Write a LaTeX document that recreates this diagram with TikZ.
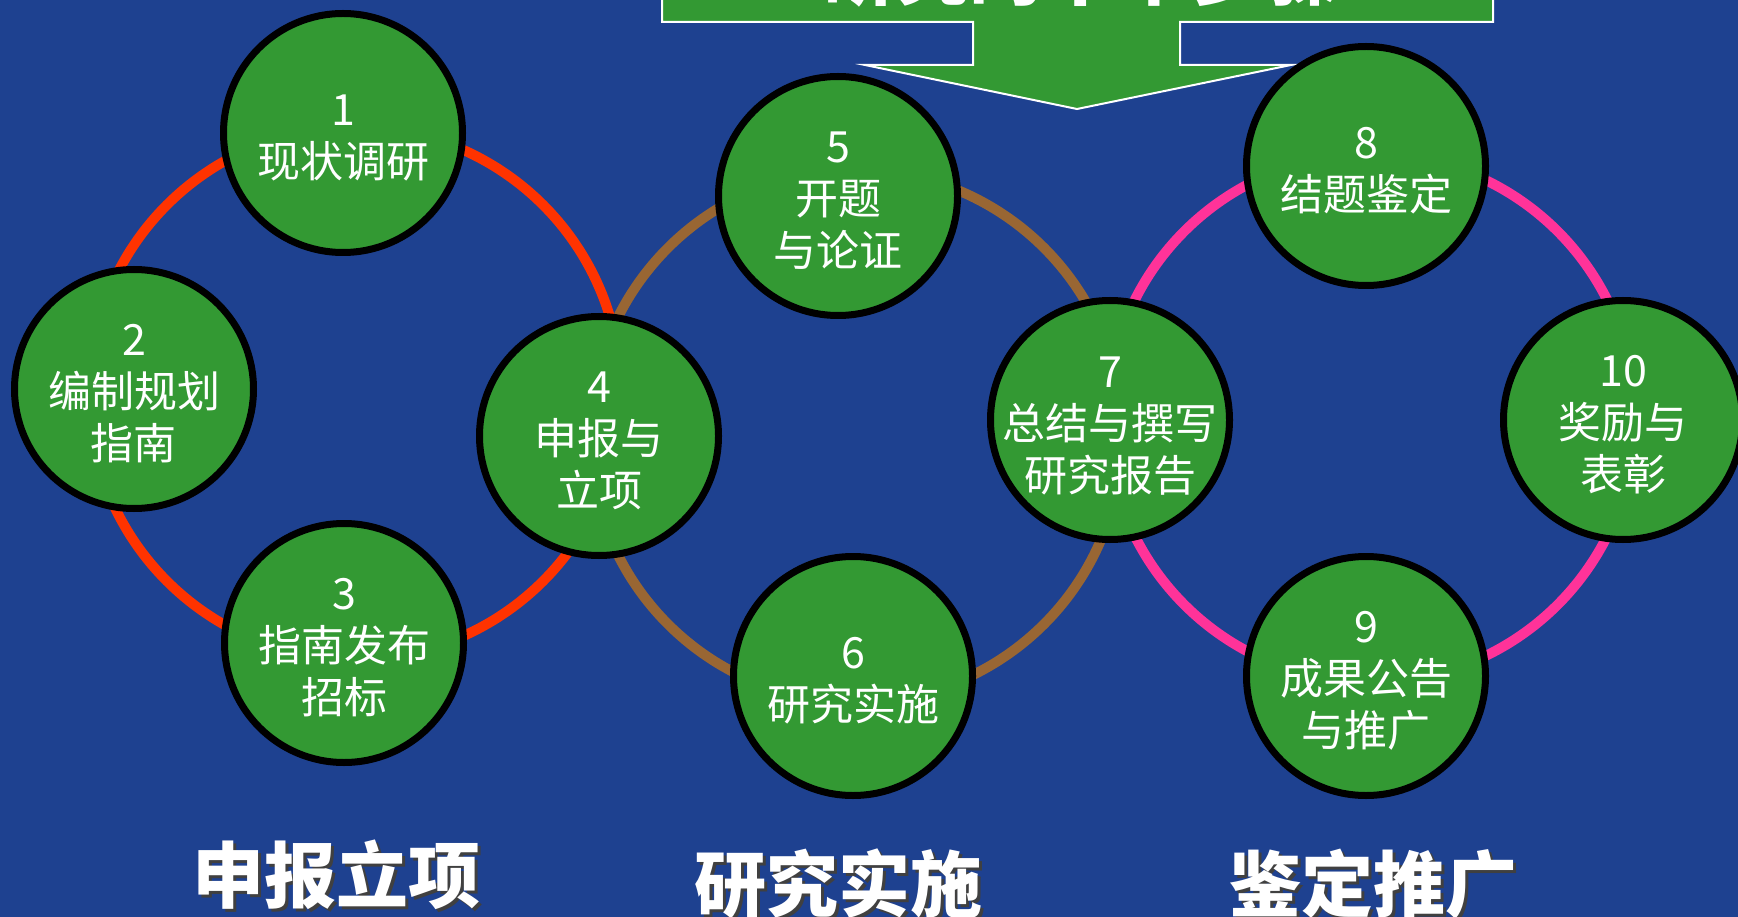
\documentclass[tikz,border=0pt]{standalone}
\usepackage{fontspec}
\setmainfont{Noto Sans CJK SC}
\definecolor{bgblue}{HTML}{1E4190}
\definecolor{stepgreen}{HTML}{339933}
\definecolor{ringred}{HTML}{FF3300}
\definecolor{ringbrown}{HTML}{996633}
\definecolor{ringpink}{HTML}{FF3399}
\tikzset{
  ring/.style={line width=10pt},
  stepcircle/.style={circle, draw=black, line width=7pt, fill=stepgreen, minimum size=239pt, inner sep=0pt},
  steptext/.style={text=white, align=center, font=\fontsize{43}{52}\selectfont, inner sep=0pt},
  phaselabel/.style={text=white, font=\fontsize{72}{72}\selectfont\bfseries, anchor=base, inner sep=0pt},
  phaseshadow/.style={text=black!75, font=\fontsize{72}{72}\selectfont\bfseries, anchor=base, inner sep=0pt},
  banner/.style={fill=stepgreen, draw=white, line width=2pt}
}
\begin{document}
\begin{tikzpicture}[x=1pt,y=-1pt]
\useasboundingbox (0,0) rectangle (1738,917);
\clip (0,0) rectangle (1738,917);
\fill[bgblue] (0,0) rectangle (1738,917);

% rings
\draw[ring, ringred] (355,393) circle[radius=266pt];
\draw[ring, ringbrown] (856,436) circle[radius=266pt];
\draw[ring, ringpink] (1371,418) circle[radius=264pt];

% banner arrow
\draw[banner] (662,-10) -- (662,22) -- (973,22) -- (973,65) -- (865,65) -- (1077,109)
  -- (1291,65) -- (1180,65) -- (1180,22) -- (1493,22) -- (1493,-10) -- cycle;
\node[text=white, font=\fontsize{74}{74}\selectfont\bfseries, anchor=base, inner sep=0pt] (title) at (1080,0) {研究的十个步骤};

% step circles
\node[stepcircle] (n1) at (343,133) {};
\node[stepcircle] (n2) at (134,389) {};
\node[stepcircle] (n3) at (344,643) {};
\node[stepcircle] (n4) at (599,436) {};
\node[stepcircle] (n5) at (838,196) {};
\node[stepcircle] (n6) at (853,676) {};
\node[stepcircle] (n7) at (1110,420) {};
\node[stepcircle] (n8) at (1366,166) {};
\node[stepcircle] (n9) at (1366,676) {};
\node[stepcircle] (n10) at (1623,420) {};

\node[steptext] (t1) at ([yshift=-5pt]n1.center) {1\\现状调研};
\node[steptext] (t2) at ([yshift=-5pt]n2.center) {2\\编制规划\\指南};
\node[steptext] (t3) at ([yshift=-5pt]n3.center) {3\\指南发布\\招标};
\node[steptext] (t4) at ([yshift=-5pt]n4.center) {4\\申报与\\立项};
\node[steptext] (t5) at ([yshift=-5pt]n5.center) {5\\开题\\与论证};
\node[steptext] (t6) at ([yshift=-5pt]n6.center) {6\\研究实施};
\node[steptext] (t7) at ([yshift=-6pt]n7.center) {7\\总结与撰写\\研究报告};
\node[steptext] (t8) at ([yshift=-5pt]n8.center) {8\\结题鉴定};
\node[steptext] (t9) at ([yshift=-5pt]n9.center) {9\\成果公告\\与推广};
\node[steptext] (t10) at ([yshift=-5pt]n10.center) {10\\奖励与\\表彰};

% phase labels
\node[phaseshadow] (s1) at (339,905) {申报立项};
\node[phaselabel] (p1) at (336,902) {申报立项};
\node[phaseshadow] (s2) at (841,914) {研究实施};
\node[phaselabel] (p2) at (838,911) {研究实施};
\node[phaseshadow] (s3) at (1376,914) {鉴定推广};
\node[phaselabel] (p3) at (1373,911) {鉴定推广};
\end{tikzpicture}
\end{document}
